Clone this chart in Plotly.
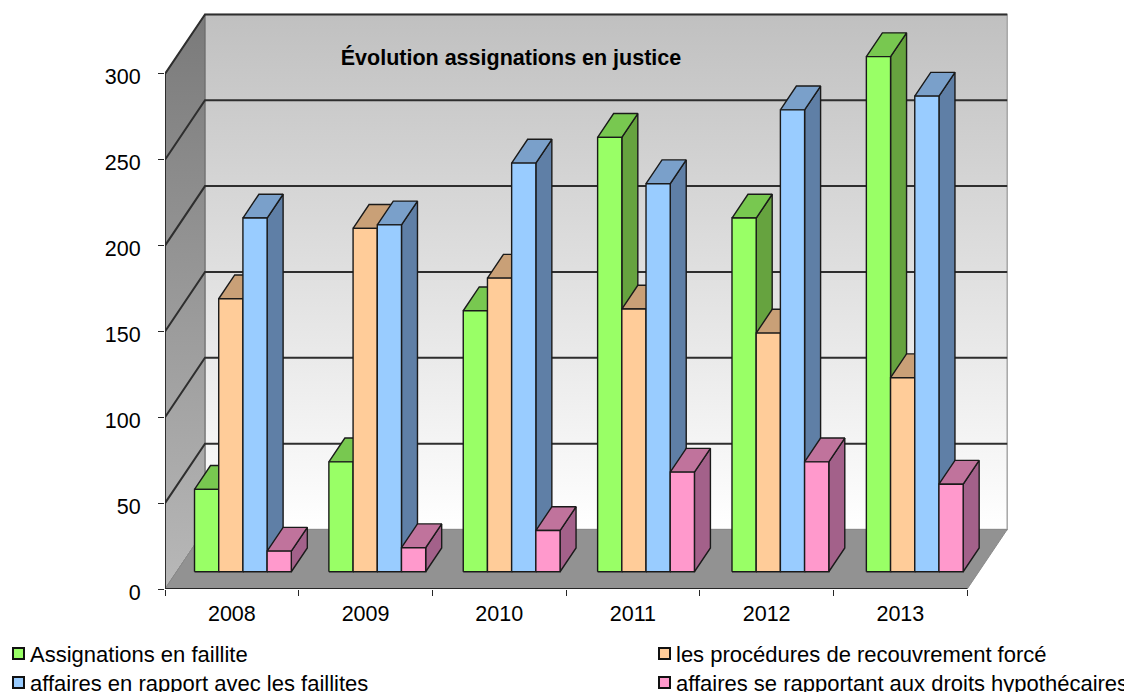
import plotly.graph_objects as go

categories = ["2008", "2009", "2010", "2011", "2012", "2013"]
series_names = ["Assignations en faillite", "les procédures de recouvrement forcé",
                "affaires en rapport avec les faillites", "affaires se rapportant aux droits hypothécaires"]
faillite = [48, 64, 152, 253, 206, 300]
recouvrement = [159, 200, 171, 153, 139, 113]
rapport = [206, 202, 238, 226, 269, 277]
hypothecaires = [12, 14, 24, 58, 64, 51]
front_colors = ["#99FF66", "#FFCC99", "#99CCFF", "#FF99CC"]
side_colors = ["#66A33F", "#A3825F", "#5F7FA6", "#A3618A"]
top_colors = ["#78C850", "#C9A077", "#7AA0CA", "#C0739C"]
y_ticks = [0, 50, 100, 150, 200, 250, 300]

OFF = 8  # page body margin
W, H = 1132 - OFF, 692 - OFF
ML, MR, MT, MB = 165 - OFF, 122, 10 - OFF, 103
PX_X = 133.7   # pixels per category
PX_Y = 1.717   # pixels per value unit
XMAX = (W - ML - MR) / PX_X
YMAX = (H - MT - MB) / PX_Y
DX, DY = 40 / PX_X, 59.5 / PX_Y   # full depth of the box, in axis units
BAR_W, GAP, SPREAD = 0.181, 0.134, 1.005
D0, D1 = 0.29, 0.69               # bar depth range
FS = 21.5
FS_LEG = 22


def proj(x, v, d=0.0):
    return x + d * DX, v + d * DY


def poly(points):
    xs, ys = zip(*points)
    return list(xs) + [xs[0]], list(ys) + [ys[0]]


def join(polys):
    X, Y = [], []
    for xs, ys in polys:
        X += list(xs) + [None]
        Y += list(ys) + [None]
    return X, Y


fig = go.Figure()
n = len(categories)
vmax = y_ticks[-1]

# walls and floor
wx, wy = poly([proj(0, 0, 1), proj(n, 0, 1), proj(n, vmax, 1), proj(0, vmax, 1)])
fig.add_trace(go.Scatter(x=wx, y=wy, mode="lines", fill="toself", line=dict(color="#A6A6A6", width=1.5),
                         fillgradient=dict(type="vertical", colorscale=[[0, "#FFFFFF"], [1, "#C0C0C0"]])))
lx, ly = poly([proj(0, 0, 0), proj(0, 0, 1), proj(0, vmax, 1), proj(0, vmax, 0)])
fig.add_trace(go.Scatter(x=lx, y=ly, mode="lines", fill="toself", line=dict(color="#666666", width=1),
                         fillgradient=dict(type="vertical", colorscale=[[0, "#B8B8B8"], [1, "#7A7A7A"]])))
fx, fy = poly([proj(0, 0, 0), proj(n, 0, 0), proj(n, 0, 1), proj(0, 0, 1)])
fig.add_trace(go.Scatter(x=fx, y=fy, mode="lines", fill="toself", fillcolor="#929292",
                         line=dict(color="#8A8A8A", width=1)))

# gridlines across the walls
segs = []
for v in y_ticks[1:]:
    segs.append(([proj(0, v)[0], proj(0, v, 1)[0], proj(n, v, 1)[0]],
                 [proj(0, v)[1], proj(0, v, 1)[1], proj(n, v, 1)[1]]))
gx, gy = join(segs)
fig.add_trace(go.Scatter(x=gx, y=gy, mode="lines", line=dict(color="#2E2E2E", width=2)))

# bars
all_values = [faillite, recouvrement, rapport, hypothecaires]
for s, values in enumerate(all_values):
    fronts, sides, tops = [], [], []
    for c, v in enumerate(values):
        x0 = c * SPREAD + GAP + s * BAR_W
        x1 = x0 + BAR_W
        fronts.append(poly([proj(x0, 0, D0), proj(x1, 0, D0), proj(x1, v, D0), proj(x0, v, D0)]))
        sides.append(poly([proj(x1, 0, D0), proj(x1, 0, D1), proj(x1, v, D1), proj(x1, v, D0)]))
        tops.append(poly([proj(x0, v, D0), proj(x1, v, D0), proj(x1, v, D1), proj(x0, v, D1)]))
    for group, color in ((sides, side_colors[s]), (tops, top_colors[s]), (fronts, front_colors[s])):
        X, Y = join(group)
        fig.add_trace(go.Scatter(x=X, y=Y, mode="lines", fill="toself", fillcolor=color, name=series_names[s],
                                 line=dict(color="#1A1A1A", width=1.4)))

# axis lines
fig.add_trace(go.Scatter(x=[0, 0, n], y=[vmax, 0, 0], mode="lines", line=dict(color="#262626", width=1.8),
                         cliponaxis=False))

# legend
legend_pos = [(13, 648), (659, 648), (13, 677), (659, 677)]
shapes, annots = [], []
PW, PH = W - ML - MR, H - MT - MB
for i, (lx0, ly0) in enumerate(legend_pos):
    sx, sy = lx0 - OFF, ly0 - OFF
    shapes.append(dict(type="rect", xref="paper", yref="paper",
                       x0=(sx - ML) / PW, x1=(sx + 11 - ML) / PW,
                       y0=1 - (sy - MT) / PH, y1=1 - (sy + 11 - MT) / PH,
                       fillcolor=front_colors[i], line=dict(color="#111111", width=2)))
    annots.append(dict(text=series_names[i], xref="paper", yref="paper", showarrow=False,
                       x=(sx + 15 - ML) / PW, xanchor="left",
                       y=1 - (sy + 6 - MT) / PH, yanchor="middle",
                       font=dict(family="Liberation Sans", size=FS_LEG, color="#000000")))

fig.update_layout(
    width=W, height=H, autosize=False,
    margin=dict(l=ML, r=MR, t=MT, b=MB),
    paper_bgcolor="#FFFFFF", plot_bgcolor="#FFFFFF",
    showlegend=False, hovermode=False,
    font=dict(family="Liberation Sans", size=FS, color="#000000"),
    title=dict(text="<b>Évolution assignations en justice</b>", xref="container", yref="container",
               x=(511 - OFF) / W, xanchor="center", y=1 - (57 - OFF) / H, yanchor="middle",
               font=dict(family="Liberation Sans", size=FS, color="#000000")),
    xaxis=dict(range=[0, XMAX], showgrid=False, zeroline=False, showline=False,
               tickmode="array", tickvals=[c + 0.5 for c in range(n)], ticktext=categories,
               ticks="", ticklabelstandoff=9,
               minor=dict(tickmode="array", tickvals=list(range(n + 1)), ticks="outside", ticklen=6,
                          tickcolor="#262626", tickwidth=1.3, showgrid=False)),
    yaxis=dict(range=[0, YMAX], showgrid=False, zeroline=False, showline=False,
               tickmode="array", tickvals=y_ticks, ticks="outside", ticklen=6,
               tickcolor="#262626", tickwidth=1.3, ticklabelstandoff=13, ticklabelshift=3),
    shapes=shapes, annotations=annots,
)
fig.write_html("out.html")
